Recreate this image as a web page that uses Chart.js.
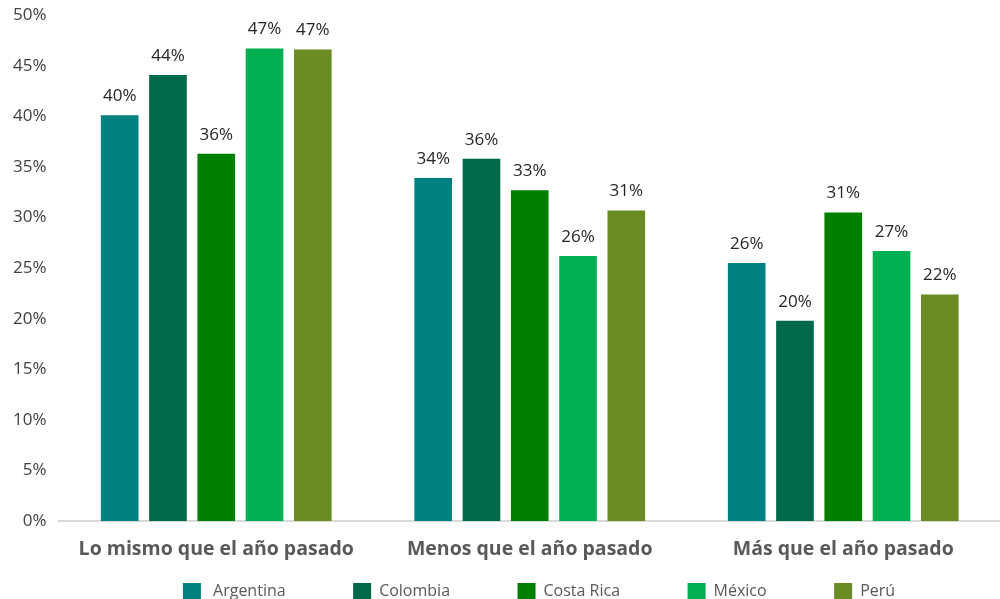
<!DOCTYPE html>
<html lang="es">

<head>
    <meta charset="UTF-8">
    <title>Comparación con el año pasado</title>
    <style>
        html, body { margin: 0; padding: 0; background: #fff; }
        #wrap { width: 1000px; height: 599px; }
    </style>
</head>

<body>

    <div id="wrap">
        <canvas id="myChart"></canvas>
    </div>

    <script src="https://cdn.jsdelivr.net/npm/chart.js"></script>
    <script>
        // categorías del eje x
        const v_labels = ["Lo mismo que el año pasado", "Menos que el año pasado", "Más que el año pasado"];

        // valores por país (%)
        const v_argentina = [40.1, 33.9, 25.5];
        const v_colombia = [44.1, 35.8, 19.8];
        const v_costaRica = [36.3, 32.7, 30.5];
        const v_mexico = [46.7, 26.2, 26.7];
        const v_peru = [46.6, 30.7, 22.4];

        const v_paises = ["Argentina", "Colombia", "Costa Rica", "México", "Perú"];
        const v_colores = ["#008080", "#00694A", "#008000", "#00B050", "#6A8C22"];

        const v_series = [v_argentina, v_colombia, v_costaRica, v_mexico, v_peru];

        let v_datasets = [];
        for (let i = 0; i < v_paises.length; i++) {
            v_datasets.push({
                label: v_paises[i],
                data: v_series[i],
                backgroundColor: v_colores[i],
                borderWidth: 0,
                categoryPercentage: 0.77,
                barPercentage: 0.78
            });
        }

        // etiquetas encima de cada barra
        const p_etiquetas = {
            id: "etiquetas",
            afterLayout(chart) {
                // la leyenda del original está más abajo y corrida a la derecha
                if (chart.legend) {
                    chart.legend.left += 70;
                    chart.legend.top += 11;
                }
            },
            afterDatasetsDraw(chart) {
                const ctx = chart.ctx;
                ctx.save();
                ctx.font = "17px 'Open Sans'";
                ctx.fillStyle = "#262626";
                ctx.textAlign = "center";
                ctx.textBaseline = "middle";
                chart.data.datasets.forEach((ds, i) => {
                    const meta = chart.getDatasetMeta(i);
                    meta.data.forEach((bar, k) => {
                        ctx.fillText(Math.round(ds.data[k]) + "%", bar.x, bar.y - 19);
                    });
                });
                ctx.restore();
            }
        };

        // espacio extra entre elementos de la leyenda (sin agrandarla en alto)
        const v_espacio = "\u00A0".repeat(16);

        const ctx = document.querySelector("#myChart");

        new Chart(ctx, {
            type: 'bar',
            data: {
                labels: v_labels,
                datasets: v_datasets
            },
            plugins: [p_etiquetas],
            options: {
                responsive: true,
                maintainAspectRatio: false,
                animation: false,
                layout: {
                    padding: { left: 8, right: 0, top: 0, bottom: 0 }
                },
                scales: {
                    x: {
                        grid: { display: false },
                        border: { display: true, color: "#d9d9d9", width: 2 },
                        ticks: {
                            color: "#595959",
                            padding: 9,
                            font: { family: "'Open Sans'", size: 19.5, weight: "bold" }
                        },
                        afterFit: (scale) => { scale.height = 50; }
                    },
                    y: {
                        min: 0,
                        max: 50,
                        grid: { display: false },
                        border: { display: false },
                        ticks: {
                            stepSize: 5,
                            color: "#404040",
                            padding: 5,
                            font: { family: "'Open Sans'", size: 17 },
                            callback: (v) => v + "%"
                        }
                    }
                },
                plugins: {
                    // título vacío: solo baja un poco el área del gráfico
                    title: {
                        display: true,
                        text: "",
                        font: { size: 1 },
                        padding: { top: 0, bottom: 4 }
                    },
                    legend: {
                        position: "bottom",
                        labels: {
                            boxWidth: 18,
                            boxHeight: 17,
                            padding: 1,
                            color: "#595959",
                            font: { family: "'Open Sans'", size: 16 },
                            generateLabels: (chart) => {
                                const items = Chart.defaults.plugins.legend.labels.generateLabels(chart);
                                items.forEach((it, i) => {
                                    if (i < items.length - 1) it.text = it.text + v_espacio;
                                    if (i === 0) it.text = "\u00A0" + it.text;
                                });
                                return items;
                            }
                        }
                    },
                    tooltip: { enabled: false }
                }
            }
        });
    </script>

</body>

</html>
